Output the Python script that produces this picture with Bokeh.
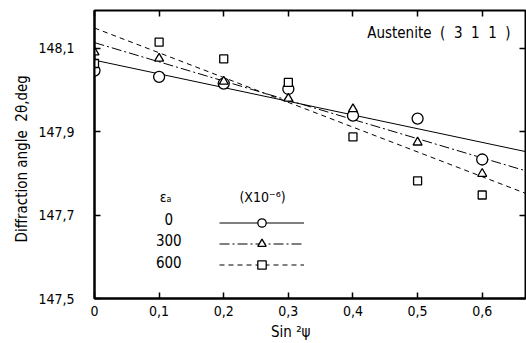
from bokeh.plotting import figure
from bokeh.models import Range1d, LinearAxis, FixedTicker, Legend, LegendItem, Label
from bokeh.embed import file_html
from bokeh.resources import INLINE

# ---- data ----
sin2psi = [0.0, 0.1, 0.2, 0.3, 0.4, 0.5, 0.6]
two_theta_0 = [148.046, 148.031, 148.015, 148.002, 147.938, 147.931, 147.833]
two_theta_300 = [148.090, 148.075, 148.020, 147.979, 147.954, 147.874, 147.799]
two_theta_600 = [148.063, 148.114, 148.074, 148.018, 147.887, 147.782, 147.748]

fit_x = [0.0, 0.667]
fit_0 = [148.071, 147.852]
fit_300 = [148.113, 147.806]
fit_600 = [148.148, 147.752]

x_ticks = [0.0, 0.1, 0.2, 0.3, 0.4, 0.5, 0.6]
x_tick_labels = ["0", "0,1", "0,2", "0,3", "0,4", "0,5", "0,6"]
y_ticks = [147.5, 147.7, 147.9, 148.1]
y_tick_labels = ["147,5", "147,7", "147,9", "148,1"]
strain_labels = ["0", "300", "600"]

FONT = "DejaVu Sans Condensed"
NB = "\u00a0"

p = figure(width=526, height=343, x_range=Range1d(0, 0.667), y_range=Range1d(147.5, 148.19),
           output_backend="svg", toolbar_location=None,
           min_border_left=94, min_border_right=1, min_border_top=10, min_border_bottom=44)
p.xgrid.visible = False
p.ygrid.visible = False
p.outline_line_color = "black"
p.outline_line_width = 2
p.outline_line_alpha = 1
p.background_fill_color = "white"

bottom = p.below[0]
left = p.left[0]
bottom.ticker = FixedTicker(ticks=x_ticks)
bottom.major_label_overrides = dict(zip(x_ticks, x_tick_labels))
bottom.major_label_standoff = 7
bottom.axis_label = "Sin ²ψ" + NB * 9
bottom.axis_label_standoff = 4
left.ticker = FixedTicker(ticks=y_ticks)
left.major_label_overrides = dict(zip(y_ticks, y_tick_labels))
left.major_label_standoff = 20
left.axis_label = "Diffraction angle" + NB * 2 + "2θ,deg" + NB * 2
left.axis_label_standoff = 4

top = LinearAxis(ticker=FixedTicker(ticks=x_ticks))
right = LinearAxis(ticker=FixedTicker(ticks=y_ticks))
top.major_label_overrides = {t: "" for t in x_ticks}
right.major_label_overrides = {t: "" for t in y_ticks}
p.add_layout(top, "above")
p.add_layout(right, "right")
for ax in [top, right]:
    ax.major_label_text_font_size = "1px"
    ax.major_label_text_color = None
    ax.major_label_standoff = 0
    ax.axis_line_color = None

for ax in [bottom, left, top, right]:
    ax.major_tick_in = 6
    ax.major_tick_out = 0
    ax.minor_tick_in = 0
    ax.minor_tick_out = 0
    ax.major_tick_line_width = 1.5
    ax.major_tick_line_color = "black"
    ax.axis_line_width = 2
    ax.major_label_text_font = FONT
    ax.axis_label_text_font = FONT
    ax.axis_label_text_font_style = "normal"
    ax.axis_label_text_color = "black"
    ax.axis_label_text_font_size = "15px"
for ax in [bottom, left]:
    ax.major_label_text_color = "black"
    ax.major_label_text_font_size = "14px"

l0 = p.line(fit_x, fit_0, line_color="black", line_width=1)
l300 = p.line(fit_x, fit_300, line_color="black", line_width=1, line_dash="10 3 2 3")
l600 = p.line(fit_x, fit_600, line_color="black", line_width=1, line_dash="5 4")

s0 = p.scatter(sin2psi, two_theta_0, marker="circle", size=11, fill_color="white",
               line_color="black", line_width=1.3)
s300 = p.scatter(sin2psi, two_theta_300, marker="triangle", size=9, fill_color="white",
                 line_color="black", line_width=1.3)
s600 = p.scatter(sin2psi, two_theta_600, marker="square", size=8, fill_color="white",
                 line_color="black", line_width=1.3)

legend = Legend(items=[LegendItem(label=" ", renderers=[l0, s0]),
                       LegendItem(label=" ", renderers=[l300, s300]),
                       LegendItem(label=" ", renderers=[l600, s600])],
                location=(125, 23), glyph_width=85, glyph_height=21, label_height=21,
                label_width=0, label_standoff=0, spacing=0, padding=0, margin=0,
                border_line_alpha=0, background_fill_alpha=0,
                label_text_font_size="1px", label_text_color=None)
p.add_layout(legend)

def lab(x, y, text, size="14px", align="center"):
    p.add_layout(Label(x=x, y=y, text=text, text_align=align, text_baseline="middle",
                       text_font=FONT, text_font_size=size, text_color="black"))

lab_y = [147.690, 147.639, 147.587]
for txt, yy in zip(strain_labels, lab_y):
    lab(0.115, yy, txt, "15px")
lab(0.110, 147.742, "εₐ", "14px")
lab(0.260, 147.742, "(X10⁻⁶)", "14px")
lab(0.644, 148.136, "Austenite" + NB * 2 + "(" + NB * 2 + "3" + NB * 2 + "1" + NB * 2 + "1" + NB * 2 + ")",
    "15px", align="right")

open("out.html", "w").write(file_html(p, INLINE))
